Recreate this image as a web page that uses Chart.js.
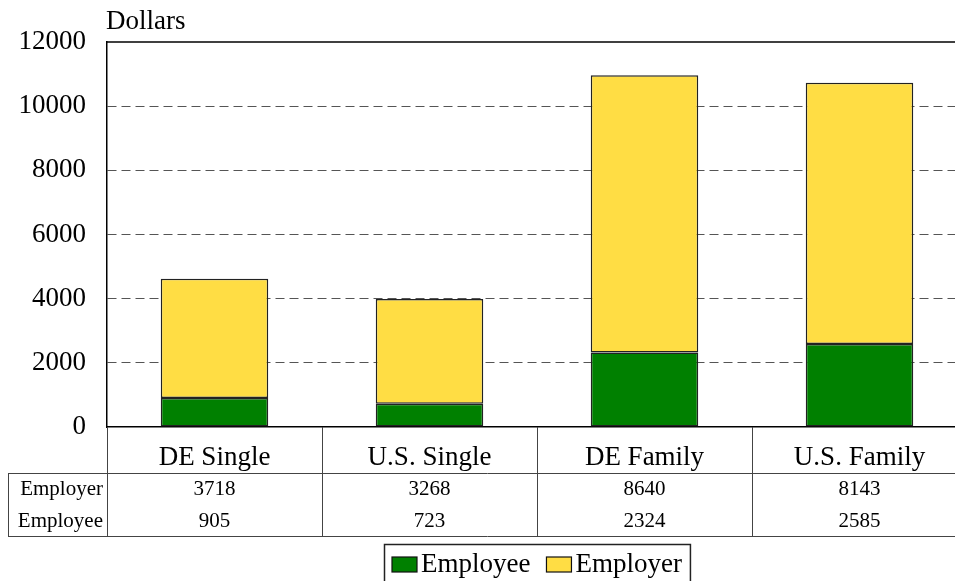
<!DOCTYPE html>
<html>
<head>
<meta charset="utf-8">
<script src="https://cdn.jsdelivr.net/npm/chart.js@4/dist/chart.umd.min.js"></script>
<style>
  html, body { margin: 0; padding: 0; background: #fff; overflow: hidden; }
  #wrap { position: absolute; left: 0; top: 0; width: 1000px; height: 581px; }
</style>
</head>
<body>
<div id="wrap"><canvas id="chart" width="1000" height="581"></canvas></div>
<script>
const categories = ['DE Single', 'U.S. Single', 'DE Family', 'U.S. Family'];
const employee = [905, 723, 2324, 2585];
const employer = [3718, 3268, 8640, 8143];
const yTicks = [0, 2000, 4000, 6000, 8000, 10000, 12000];
const axisTitle = 'Dollars';

const FONT = "'Liberation Serif', 'Times New Roman', serif";
Chart.defaults.color = '#000';
Chart.defaults.font.family = FONT;

// data table under the x axis + the top frame line + "Dollars" label
const tablePlugin = {
  id: 'dataTable',
  afterDraw(chart) {
    const { ctx, chartArea: a, scales: { x } } = chart;
    const catW = x.getPixelForValue(1) - x.getPixelForValue(0);
    const headBottom = x.bottom;
    const rowH = 31.5;
    const rows = [['Employer', employer], ['Employee', employee]];
    const tableBottom = headBottom + rowH * rows.length;
    const left = 8;

    ctx.save();
    ctx.strokeStyle = '#444';
    ctx.lineWidth = 1;
    ctx.beginPath();
    ctx.moveTo(left, headBottom + 0.5); ctx.lineTo(a.right, headBottom + 0.5);
    ctx.moveTo(left, tableBottom + 0.5); ctx.lineTo(a.right, tableBottom + 0.5);
    ctx.moveTo(left + 0.5, headBottom); ctx.lineTo(left + 0.5, tableBottom);
    categories.forEach((c, i) => {
      const bx = Math.round(x.getPixelForValue(i) - catW / 2) + 0.5;
      ctx.moveTo(bx, a.bottom); ctx.lineTo(bx, tableBottom);
    });
    ctx.stroke();

    ctx.fillStyle = '#000';
    ctx.textBaseline = 'middle';
    ctx.font = '21px ' + FONT;
    rows.forEach(([name, vals], r) => {
      const cy = headBottom + rowH * r + rowH / 2 + 1;
      ctx.textAlign = 'right';
      ctx.fillText(name, a.left - 4, cy);
      ctx.textAlign = 'center';
      vals.forEach((v, i) => ctx.fillText(String(v), x.getPixelForValue(i), cy));
    });

    // top frame line
    ctx.strokeStyle = '#000';
    ctx.lineWidth = 1.5;
    ctx.beginPath();
    ctx.moveTo(a.left, a.top); ctx.lineTo(a.right, a.top);
    ctx.stroke();

    // axis title
    ctx.font = '27px ' + FONT;
    ctx.textAlign = 'left';
    ctx.textBaseline = 'alphabetic';
    ctx.fillText(axisTitle, a.left - 1, a.top - 13);

    // boxed legend, centred on the plot
    const items = chart.data.datasets.map(d => ({ label: d.label, color: d.backgroundColor }));
    ctx.font = '27px ' + FONT;
    const sw = 25, sh = 15, pad = 8, gap = 4, itemGap = 16;
    let total = pad * 2;
    items.forEach((it, i) => {
      it.w = ctx.measureText(it.label).width;
      total += sw + gap + it.w + (i ? itemGap : 0);
    });
    const boxL = Math.round((a.left + a.right) / 2 - total / 2);
    const boxT = tableBottom + 8;
    ctx.strokeStyle = '#222';
    ctx.lineWidth = 1.5;
    ctx.strokeRect(boxL + 0.5, boxT + 0.5, total, 60);
    let cx = boxL + pad;
    const baseY = boxT + 28;
    items.forEach((it, i) => {
      if (i) cx += itemGap;
      ctx.fillStyle = it.color;
      ctx.fillRect(cx, baseY - sh, sw, sh);
      ctx.strokeStyle = '#111';
      ctx.lineWidth = 1.2;
      ctx.strokeRect(cx, baseY - sh, sw, sh);
      cx += sw + gap;
      ctx.fillStyle = '#000';
      ctx.fillText(it.label, cx, baseY);
      cx += it.w;
    });
    ctx.restore();
  }
};

new Chart(document.getElementById('chart'), {
  type: 'bar',
  data: {
    labels: categories,
    datasets: [
      { label: 'Employee', data: employee, backgroundColor: '#008000',
        borderColor: '#222', borderWidth: 1.5, borderSkipped: false },
      { label: 'Employer', data: employer, backgroundColor: '#FFDD44',
        borderColor: '#222', borderWidth: 1.5, borderSkipped: false }
    ]
  },
  options: {
    responsive: false,
    devicePixelRatio: 1,
    animation: false,
    layout: { padding: { top: 42, right: 33, bottom: 108, left: 0 } },
    datasets: { bar: { categoryPercentage: 1, barPercentage: 0.5 } },
    plugins: { legend: { display: false }, tooltip: { enabled: false } },
    scales: {
      x: {
        stacked: true,
        grid: { display: false },
        border: { display: true, color: '#000', width: 1.5 },
        ticks: { font: { size: 27 }, padding: 7, maxRotation: 0 },
        afterFit(s) { s.height = 46; }
      },
      y: {
        stacked: true,
        min: yTicks[0],
        max: yTicks[yTicks.length - 1],
        afterBuildTicks(s) { s.ticks = yTicks.map(v => ({ value: v })); },
        grid: {
          drawTicks: false,
          color: c => (c.tick && (c.tick.value === 0 || c.tick.value === 12000)) ? 'rgba(0,0,0,0)' : '#555',
          lineWidth: 1
        },
        border: { display: true, color: '#000', width: 1.5, dash: [9, 5] },
        ticks: { font: { size: 27 }, padding: 21, callback: v => String(v) },
        afterFit(s) { s.width = 107; }
      }
    }
  },
  plugins: [tablePlugin]
});
</script>
</body>
</html>
